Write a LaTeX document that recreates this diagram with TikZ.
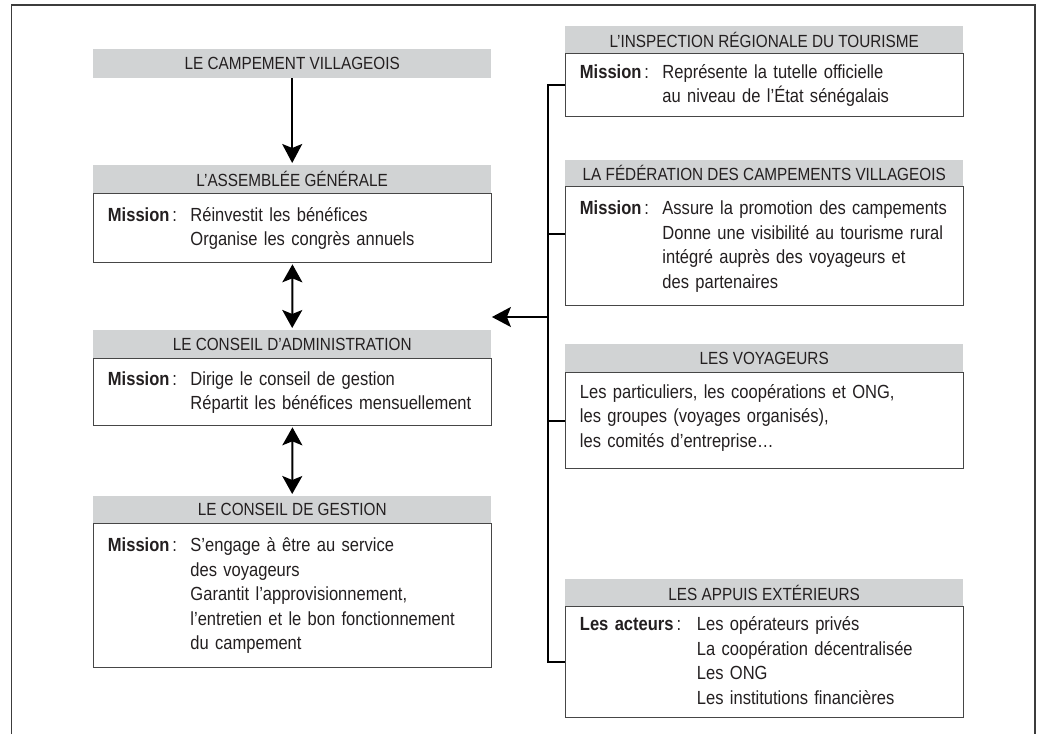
\documentclass[tikz,border=0pt]{standalone}
\usepackage{fontspec}
\setmainfont{Liberation Sans}[FakeStretch=0.87]
\usetikzlibrary{arrows.meta}
\definecolor{headgray}{RGB}{209,211,212}
\definecolor{ink}{RGB}{35,31,32}
\definecolor{edgec}{RGB}{70,70,70}
\definecolor{framec}{RGB}{60,60,60}
\newcommand\hdfont{\fontsize{17.6}{20}\selectfont}
\newcommand\bdfont{\fontsize{19}{24.5}\selectfont}
\newcommand\lab[2][82.5pt]{\makebox[#1][l]{\textbf{#2}\hspace{3pt}:}}
\begin{document}
\begin{tikzpicture}[x=1pt,y=-1pt,
  head/.style={fill=headgray, draw=none, anchor=north west, minimum width=398pt, inner sep=0pt, font=\hdfont, text=ink},
  body/.style={draw=edgec, line width=0.9pt, anchor=north west, minimum width=398pt, inner xsep=14.5pt, inner ysep=0pt, text width=369pt, align=left, font=\bdfont, text=ink},
  conn/.style={line width=2pt, draw=black},
  arr/.style={conn, -{Stealth[length=19pt,width=20pt,inset=4pt]}},
  darr/.style={conn, {Stealth[length=18pt,width=20pt,inset=4pt]}-{Stealth[length=18pt,width=20pt,inset=4pt]}},
  framel/.style={draw=framec, line width=1.3pt}
]
\useasboundingbox (0,0) rectangle (1046,734);
\draw[framel] (11.5,734) -- (11.5,5) -- (1035,5) -- (1035,734);

% left column
\node[head, minimum height=29pt] (h1) at (93,49) {LE CAMPEMENT VILLAGEOIS};

\node[head, minimum height=28pt] (h2) at (93,165) {L’ASSEMBLÉE GÉNÉRALE};
\node[body, minimum height=69pt] (b2) at (h2.south west) {\begin{tabular}{@{}l@{}l@{}}
\lab{Mission} & Réinvestit les bénéfices\\
 & Organise les congrès annuels
\end{tabular}};

\node[head, minimum height=28pt] (h3) at (93,330) {LE CONSEIL D’ADMINISTRATION};
\node[body, minimum height=67pt] (b3) at (h3.south west) {\begin{tabular}{@{}l@{}l@{}}
\lab{Mission} & Dirige le conseil de gestion\\
 & Répartit les bénéfices mensuellement
\end{tabular}};

\node[head, minimum height=27pt] (h4) at (93,496) {LE CONSEIL DE GESTION};
\node[body, minimum height=144pt] (b4) at (h4.south west) {\begin{tabular}{@{}l@{}l@{}}
\lab{Mission} & S’engage à être au service\\
 & des voyageurs\\
 & Garantit l’approvisionnement,\\
 & l’entretien et le bon fonctionnement\\
 & du campement
\end{tabular}};

% right column
\node[head, minimum height=27pt] (hi) at (565,26) {L’INSPECTION RÉGIONALE DU TOURISME};
\node[body, minimum height=63pt] (bi) at (hi.south west) {\begin{tabular}{@{}l@{}l@{}}
\lab{Mission} & Représente la tutelle officielle\\
 & au niveau de l’État sénégalais
\end{tabular}};

\node[head, minimum height=26pt] (hf) at (565,160) {LA FÉDÉRATION DES CAMPEMENTS VILLAGEOIS};
\node[body, minimum height=119pt] (bf) at (hf.south west) {\begin{tabular}{@{}l@{}l@{}}
\lab{Mission} & Assure la promotion des campements\\
 & Donne une visibilité au tourisme rural\\
 & intégré auprès des voyageurs et\\
 & des partenaires
\end{tabular}};

\node[head, minimum height=28pt] (hv) at (565,344) {LES VOYAGEURS};
\node[body, minimum height=96pt] (bv) at (hv.south west) {\begin{tabular}{@{}l@{}}
Les particuliers, les coopérations et ONG,\\
les groupes (voyages organisés),\\
les comités d’entreprise…\\[6pt]
\end{tabular}};

\node[head, minimum height=27pt] (ha) at (565,579) {LES APPUIS EXTÉRIEURS};
\node[body, minimum height=111pt] (ba) at (ha.south west) {\begin{tabular}{@{}l@{}l@{}}
\lab[117pt]{Les acteurs} & Les opérateurs privés\\
 & La coopération décentralisée\\
 & Les ONG\\
 & Les institutions financières
\end{tabular}};

% connectors
\draw[arr] (h1.south) -- ([yshift=2pt]h2.north);
\draw[darr] ([yshift=-1pt]b2.south) -- ([yshift=2pt]h3.north);
\draw[darr] ([yshift=-1pt]b3.south) -- ([yshift=2pt]h4.north);

\draw[conn] (bi.west) -- ++(-17,0) |- (ba.west);
\draw[conn] ([yshift=12pt]bf.west) -- ++(-17,0);
\draw[conn] (bv.west) -- ++(-17,0);
\coordinate (bus) at (548,317);
\draw[arr] (bus) -- (bus -| b3.east);
\end{tikzpicture}
\end{document}
